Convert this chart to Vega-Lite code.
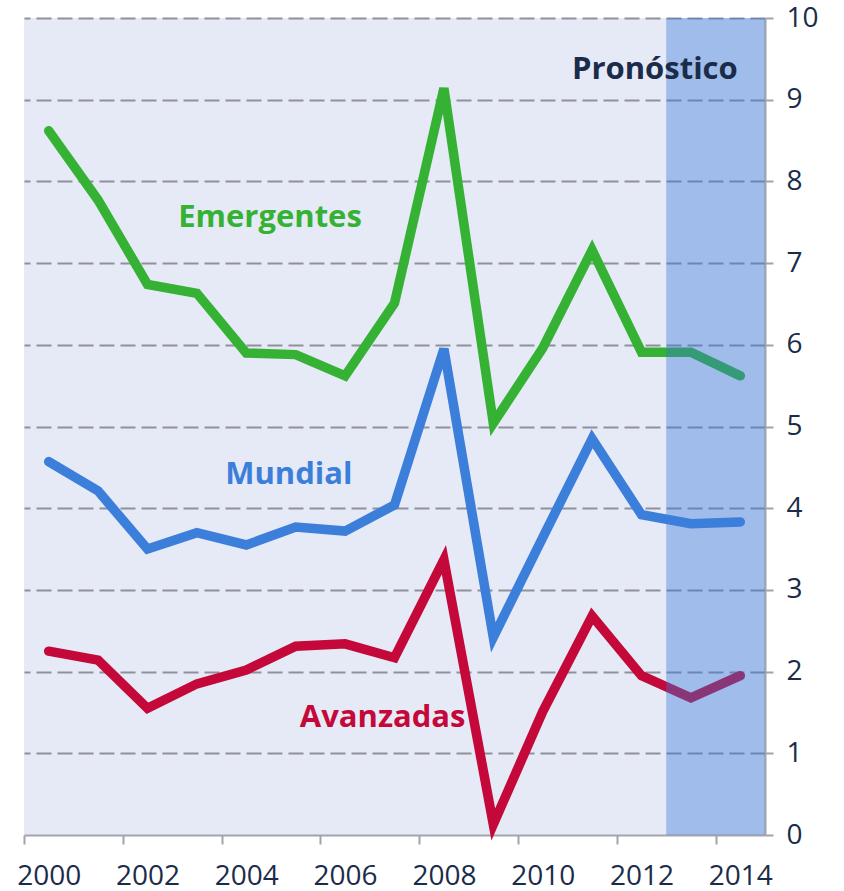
{
  "$schema": "https://vega.github.io/schema/vega-lite/v6.json",
  "width": 741,
  "height": 817,
  "autosize": "none",
  "padding": {"left": 24, "top": 18, "right": 79, "bottom": 56},
  "background": "white",
  "config": {"view": {"fill": "#e6eaf7", "stroke": null}, "font": "Open Sans"},
  "datasets": {
    "series": [
      {"year": 2000, "series": "Emergentes", "value": 8.62},
      {"year": 2001, "series": "Emergentes", "value": 7.77},
      {"year": 2002, "series": "Emergentes", "value": 6.74},
      {"year": 2003, "series": "Emergentes", "value": 6.63},
      {"year": 2004, "series": "Emergentes", "value": 5.9},
      {"year": 2005, "series": "Emergentes", "value": 5.88},
      {"year": 2006, "series": "Emergentes", "value": 5.62},
      {"year": 2007, "series": "Emergentes", "value": 6.51},
      {"year": 2008, "series": "Emergentes", "value": 9.14},
      {"year": 2009, "series": "Emergentes", "value": 5.04},
      {"year": 2010, "series": "Emergentes", "value": 5.96},
      {"year": 2011, "series": "Emergentes", "value": 7.16},
      {"year": 2012, "series": "Emergentes", "value": 5.91},
      {"year": 2013, "series": "Emergentes", "value": 5.91},
      {"year": 2014, "series": "Emergentes", "value": 5.62},
      {"year": 2000, "series": "Mundial", "value": 4.57},
      {"year": 2001, "series": "Mundial", "value": 4.21},
      {"year": 2002, "series": "Mundial", "value": 3.5},
      {"year": 2003, "series": "Mundial", "value": 3.7},
      {"year": 2004, "series": "Mundial", "value": 3.55},
      {"year": 2005, "series": "Mundial", "value": 3.77},
      {"year": 2006, "series": "Mundial", "value": 3.72},
      {"year": 2007, "series": "Mundial", "value": 4.04},
      {"year": 2008, "series": "Mundial", "value": 5.95},
      {"year": 2009, "series": "Mundial", "value": 2.42},
      {"year": 2010, "series": "Mundial", "value": 3.64},
      {"year": 2011, "series": "Mundial", "value": 4.85},
      {"year": 2012, "series": "Mundial", "value": 3.92},
      {"year": 2013, "series": "Mundial", "value": 3.81},
      {"year": 2014, "series": "Mundial", "value": 3.83},
      {"year": 2000, "series": "Avanzadas", "value": 2.25},
      {"year": 2001, "series": "Avanzadas", "value": 2.14},
      {"year": 2002, "series": "Avanzadas", "value": 1.55},
      {"year": 2003, "series": "Avanzadas", "value": 1.85},
      {"year": 2004, "series": "Avanzadas", "value": 2.02},
      {"year": 2005, "series": "Avanzadas", "value": 2.31},
      {"year": 2006, "series": "Avanzadas", "value": 2.34},
      {"year": 2007, "series": "Avanzadas", "value": 2.17},
      {"year": 2008, "series": "Avanzadas", "value": 3.37},
      {"year": 2009, "series": "Avanzadas", "value": 0.13},
      {"year": 2010, "series": "Avanzadas", "value": 1.51},
      {"year": 2011, "series": "Avanzadas", "value": 2.68},
      {"year": 2012, "series": "Avanzadas", "value": 1.95},
      {"year": 2013, "series": "Avanzadas", "value": 1.68},
      {"year": 2014, "series": "Avanzadas", "value": 1.95}
    ],
    "forecast": [{"start": 2012.5, "end": 2014.5, "low": 0, "high": 10}],
    "labels": [
      {"year": 2004.48, "value": 7.55, "series": "Emergentes", "label": "Emergentes"},
      {"year": 2004.86, "value": 4.41, "series": "Mundial", "label": "Mundial"},
      {"year": 2006.76, "value": 1.43, "series": "Avanzadas", "label": "Avanzadas"},
      {"year": 2012.27, "value": 9.36, "series": "Pronóstico", "label": "Pronóstico"}
    ]
  },
  "layer": [
    {
      "data": {"name": "series"},
      "transform": [{"filter": "datum.series !== 'Mundial'"}],
      "mark": {"type": "line", "strokeWidth": 9.5, "strokeCap": "round", "strokeJoin": "miter"},
      "encoding": {
        "x": {
          "field": "year", "type": "quantitative",
          "scale": {"domain": [1999.5, 2014.5], "nice": false, "zero": false},
          "axis": {
            "values": [1999.5, 2001.5, 2003.5, 2005.5, 2007.5, 2009.5, 2011.5, 2013.5],
            "labelExpr": "datum.value + 0.5",
            "labelOffset": 24.7,
            "grid": false,
            "title": null,
            "domainColor": "#a3a3ab", "domainWidth": 2,
            "tickColor": "#a3a3ab", "tickWidth": 2, "tickSize": 9,
            "labelFontSize": 28, "labelColor": "#1b2c4a", "labelPadding": 18,
            "labelFlush": false, "labelOverlap": false, "labelBound": false
          }
        },
        "y": {
          "field": "value", "type": "quantitative",
          "scale": {"domain": [0, 10], "nice": false},
          "axis": {
            "orient": "right",
            "values": [0, 1, 2, 3, 4, 5, 6, 7, 8, 9, 10],
            "format": "d",
            "title": null,
            "grid": true,
            "gridDash": [15, 6],
            "gridColor": "#8f909c",
            "gridWidth": 2,
            "gridOpacity": {"condition": {"test": "datum.value === 0", "value": 0}, "value": 1},
            "domainColor": "#a3a3ab", "domainWidth": 2,
            "tickColor": "#a3a3ab", "tickWidth": 2, "tickSize": 8,
            "labelFontSize": 28, "labelColor": "#1b2c4a", "labelPadding": 13
          }
        },
        "detail": {"field": "series"},
        "color": {
          "field": "series", "type": "nominal", "legend": null,
          "scale": {"domain": ["Emergentes", "Mundial", "Avanzadas", "Pronóstico"], "range": ["#35b234", "#3b7fdb", "#c4093a", "#1b2c4a"]}
        }
      }
    },
    {
      "data": {"name": "forecast"},
      "mark": {"type": "rect", "color": "#3779d9", "opacity": 0.4},
      "encoding": {
        "x": {"field": "start", "type": "quantitative"},
        "x2": {"field": "end"},
        "y": {"field": "low", "type": "quantitative"},
        "y2": {"field": "high"}
      }
    },
    {
      "data": {"name": "series"},
      "transform": [{"filter": "datum.series === 'Mundial'"}],
      "mark": {"type": "line", "strokeWidth": 9.5, "strokeCap": "round", "strokeJoin": "miter"},
      "encoding": {
        "x": {"field": "year", "type": "quantitative"},
        "y": {"field": "value", "type": "quantitative"},
        "color": {"field": "series", "type": "nominal", "legend": null}
      }
    },
    {
      "data": {"name": "labels"},
      "mark": {"type": "text", "fontSize": 31, "fontWeight": "bold", "align": "center", "baseline": "middle"},
      "encoding": {
        "x": {"field": "year", "type": "quantitative"},
        "y": {"field": "value", "type": "quantitative"},
        "text": {"field": "label"},
        "color": {"field": "series", "type": "nominal", "legend": null}
      }
    }
  ]
}
